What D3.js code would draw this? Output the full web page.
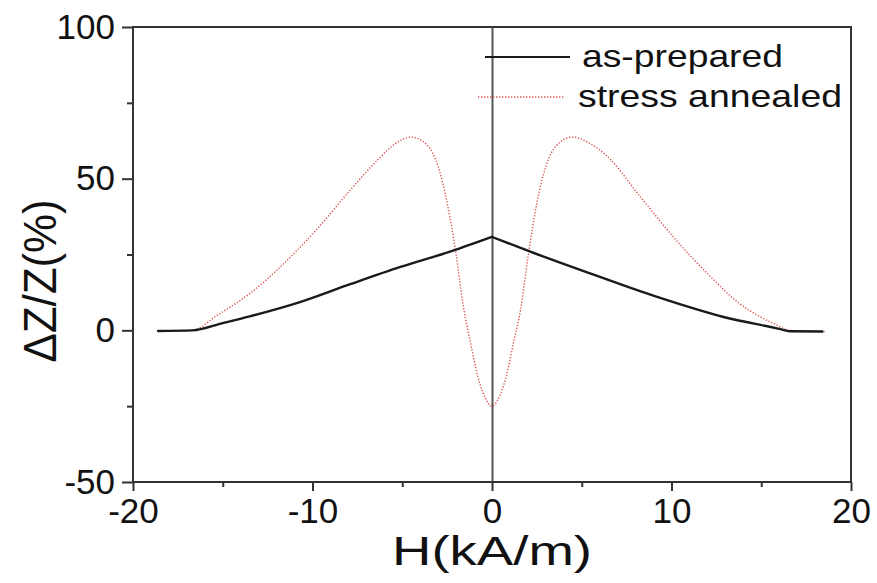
<!DOCTYPE html>
<html>
<head>
<meta charset="utf-8">
<script src="https://cdn.jsdelivr.net/npm/d3@7"></script>
<style>
  body { margin: 0; background: #fff; }
  svg text { font-family: "Liberation Sans", Arial, sans-serif; fill: #111; }
</style>
</head>
<body>
<div id="chart"></div>
<script>
// field values H (kA/m) and impedance ratio dZ/Z (%)
const hPrepared = [-18.6, -16.7, -15.0, -13.5, -10.7, -7.9, -5.1, -2.3, 0, 2.1, 5.5, 9.2, 12.9, 16.0, 16.6, 18.4];
const zPrepared = [-0.2, 0, 2.4, 4.6, 9.3, 15.2, 20.9, 26.0, 30.8, 26.0, 18.7, 11.0, 4.4, 0.5, -0.3, -0.4];

const hAnnealed = [-18.6, -16.7, -15.3, -13.5, -11.6, -9.8, -7.9, -6.4, -5.4, -4.5, -3.6, -3.0, -2.5, -2.0, -1.6, -1.2, -0.8, -0.4, 0,
                   0.4, 0.8, 1.2, 1.6, 2.0, 2.5, 3.0, 3.6, 4.5, 5.4, 6.4, 8.2, 10.1, 12.0, 13.8, 15.7, 16.6, 18.6];
const zAnnealed = [-0.2, 0, 5.0, 12.1, 22.0, 33.0, 46.2, 56.0, 61.5, 63.7, 61.0, 54.0, 42.0, 25.0, 8.0, -4.0, -15.0, -22.0, -25.0,
                   -22.0, -15.0, -4.0, 7.0, 24.0, 42.0, 54.0, 61.0, 63.7, 61.8, 57.5, 44.5, 30.8, 18.7, 8.8, 2.2, 0, -0.4];

const xMajor = [-20, -10, 0, 10, 20];
const xMinor = [-15, -5, 5, 15];
const yMajor = [-50, 0, 50, 100];
const yMinor = [-25, 25, 75];

const seriesNames = ["as-prepared", "stress annealed"];

const width = 877, height = 583;
const margin = {top: 27, right: 26, bottom: 101, left: 133};

const svg = d3.select("#chart").append("svg")
  .attr("width", width)
  .attr("height", height);

const x = d3.scaleLinear().domain([-20, 20]).range([margin.left, width - margin.right]);
const y = d3.scaleLinear().domain([-50, 100]).range([height - margin.bottom, margin.top]);

// vertical line at H = 0
svg.append("line")
  .attr("x1", x(0) + 0.5).attr("x2", x(0) + 0.5)
  .attr("y1", y(100)).attr("y2", y(-50))
  .attr("stroke", "#555").attr("stroke-width", 2);

// curves
const prepared = hPrepared.map((h, i) => [h, zPrepared[i]]);
const annealed = hAnnealed.map((h, i) => [h, zAnnealed[i]]);

const smooth = d3.line().x(d => x(d[0])).y(d => y(d[1])).curve(d3.curveMonotoneX);

svg.append("path")
  .datum(annealed)
  .attr("fill", "none")
  .attr("stroke", "#d9534f")
  .attr("stroke-width", 1.4)
  .attr("stroke-dasharray", "1.3,1.7")
  .attr("d", smooth);

// as-prepared has a sharp peak at H = 0, so each branch is smoothed on its own
[prepared.filter(d => d[0] <= 0), prepared.filter(d => d[0] >= 0)].forEach(branch => {
  svg.append("path")
    .datum(branch)
    .attr("fill", "none")
    .attr("stroke", "#1a1a1a")
    .attr("stroke-width", 2.4)
    .attr("stroke-linecap", "round")
    .attr("d", smooth);
});

// frame
svg.append("rect")
  .attr("x", x(-20)).attr("y", y(100))
  .attr("width", x(20) - x(-20)).attr("height", y(-50) - y(100))
  .attr("fill", "none").attr("stroke", "#333").attr("stroke-width", 2);

// axes
svg.append("g")
  .attr("transform", `translate(0,${y(-50)})`)
  .call(d3.axisBottom(x).tickValues(xMajor).tickSize(9).tickPadding(7).tickFormat(d3.format("d")));
svg.append("g")
  .attr("transform", `translate(0,${y(-50)})`)
  .call(d3.axisBottom(x).tickValues(xMinor).tickSize(5).tickFormat(""));

svg.append("g")
  .attr("transform", `translate(${x(-20)},0)`)
  .call(d3.axisLeft(y).tickValues(yMajor).tickSize(11).tickPadding(7).tickFormat(d3.format("d")));
svg.append("g")
  .attr("transform", `translate(${x(-20)},0)`)
  .call(d3.axisLeft(y).tickValues(yMinor).tickSize(6).tickFormat(""));

svg.selectAll(".domain").remove();
svg.selectAll(".tick line").attr("stroke", "#333").attr("stroke-width", 2);
svg.selectAll(".tick text")
  .attr("font-size", 35)
  .attr("font-family", "Liberation Sans, Arial, sans-serif")
  .attr("fill", "#111")
  .text(function() { return d3.select(this).text().replace("\u2212", "-"); });

// axis titles
svg.append("text")
  .attr("x", x(0)).attr("y", 565)
  .attr("text-anchor", "middle")
  .attr("font-size", 41)
  .attr("textLength", 200).attr("lengthAdjust", "spacingAndGlyphs")
  .text("H(kA/m)");

svg.append("text")
  .attr("transform", "translate(56,281) rotate(-90)")
  .attr("text-anchor", "middle")
  .attr("font-size", 46)
  .attr("textLength", 163).attr("lengthAdjust", "spacingAndGlyphs")
  .text("\u0394Z/Z(%)");

// legend
const legend = svg.append("g");
const legendRows = [
  {name: seriesNames[0], y: 57, x1: 485, x2: 570, tx: 582, len: 201, color: "#1a1a1a", w: 1.8, dash: null},
  {name: seriesNames[1], y: 97, x1: 478, x2: 565, tx: 578, len: 264, color: "#d9534f", w: 1.3, dash: "1.3,1.7"}
];
legendRows.forEach(r => {
  legend.append("line")
    .attr("x1", r.x1).attr("x2", r.x2).attr("y1", r.y).attr("y2", r.y)
    .attr("stroke", r.color).attr("stroke-width", r.w)
    .attr("stroke-dasharray", r.dash);
  legend.append("text")
    .attr("x", r.tx).attr("y", r.y + 10)
    .attr("font-size", 32)
    .attr("textLength", r.len).attr("lengthAdjust", "spacingAndGlyphs")
    .text(r.name);
});
</script>
</body>
</html>
